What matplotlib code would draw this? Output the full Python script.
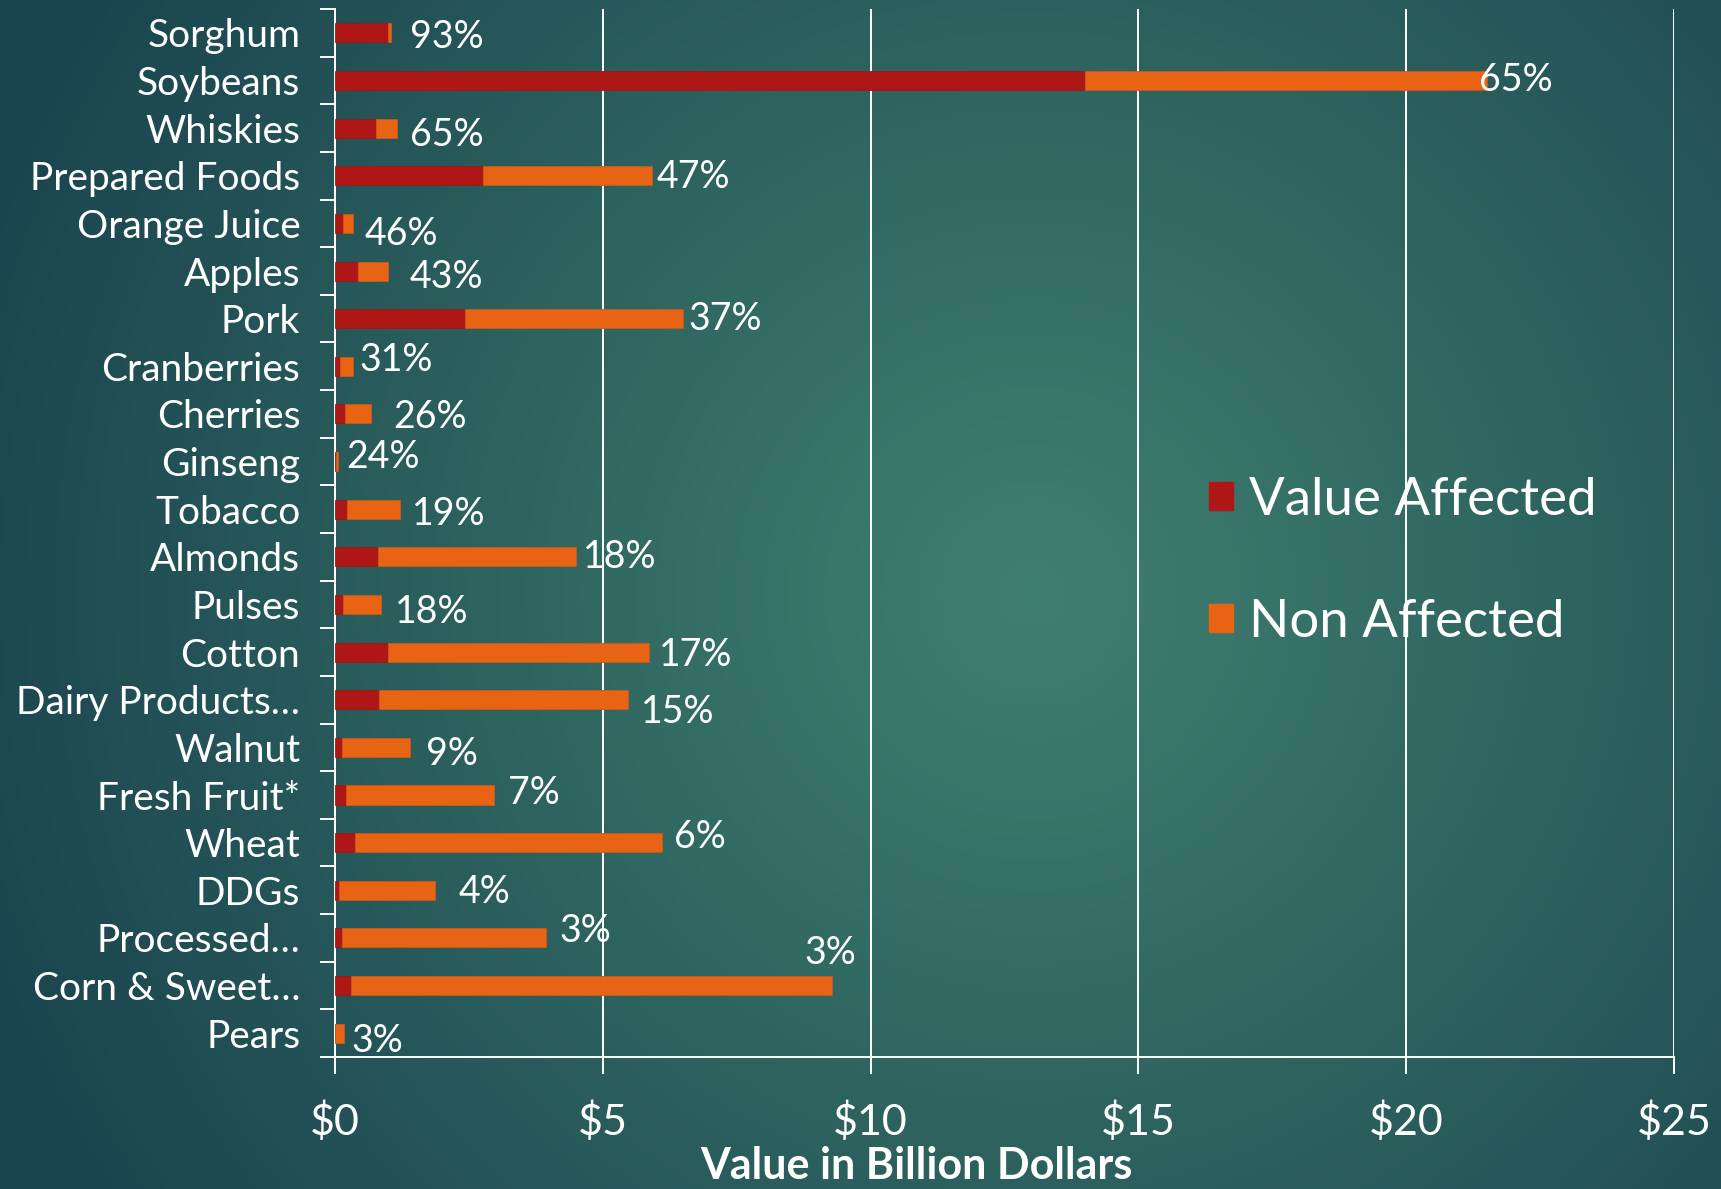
import numpy as np
import matplotlib
matplotlib.use("Agg")
import matplotlib.pyplot as plt
from matplotlib.patches import Patch

plt.rcParams['font.family'] = ['Lato', 'DejaVu Sans']

categories = ["Sorghum", "Soybeans", "Whiskies", "Prepared Foods", "Orange Juice",
              "Apples", "Pork", "Cranberries", "Cherries", "Ginseng", "Tobacco",
              "Almonds", "Pulses", "Cotton", "Dairy Products\u2026", "Walnut",
              "Fresh Fruit*", "Wheat", "DDGs", "Processed\u2026", "Corn & Sweet\u2026",
              "Pears"]
# billions of dollars
affected = [0.98, 14.0, 0.76, 2.77, 0.15, 0.42, 2.42, 0.10, 0.18, 0.015, 0.23,
            0.81, 0.15, 0.99, 0.82, 0.12, 0.20, 0.37, 0.07, 0.12, 0.30, 0.005]
non_affected = [0.07, 7.5, 0.39, 3.15, 0.18, 0.56, 4.08, 0.23, 0.50, 0.045, 0.98,
                3.68, 0.71, 4.87, 4.65, 1.27, 2.77, 5.73, 1.79, 3.81, 8.98, 0.155]
pct_labels = ["93%", "65%", "65%", "47%", "46%", "43%", "37%", "31%", "26%", "24%",
              "19%", "18%", "18%", "17%", "15%", "9%", "7%", "6%", "4%", "3%", "3%", "3%"]

# hand placed label offsets (points), like the original slide
lab_dx = [17, -7, 12, 4, 11, 20, 5, 6, 20, 7, 11, 7, 13, 9, 12, 15, 13, 11, 22, 13, -25, 7]
lab_dy = [4, 0, 6, 1, 10, 5, 0, -6, 3, -4, 4, 0, 7, 3, 11, 6, -2, -5, 2, -6, -30, 7]

RED = "#AF1616"
ORANGE = "#E86414"

fig = plt.figure(figsize=(17.21, 11.89), dpi=100)

# teal radial background
bg = fig.add_axes([0, 0, 1, 1], zorder=-10)
yy, xx = np.mgrid[0:1:300j, 0:1:430j]
d = np.sqrt(((xx - 0.6) * 1.45) ** 2 + ((yy - 0.5) * 1.0) ** 2)
t = np.clip(d / 0.95, 0, 1)
c_in = np.array([64, 128, 112]) / 255
c_out = np.array([26, 68, 78]) / 255
img = c_in[None, None, :] * (1 - t[..., None]) + c_out[None, None, :] * t[..., None]
bg.imshow(img, aspect='auto', extent=[0, 1, 0, 1], origin='upper')
bg.axis('off')

ax = fig.add_axes([0.1947, 0.1110, 0.9727 - 0.1947, 0.9924 - 0.1110])
ax.set_facecolor('none')

y = np.arange(len(categories))
ax.barh(y, affected, height=0.4, color=RED, edgecolor="#9a1a12", linewidth=0.6,
        label="Value Affected", zorder=3)
ax.barh(y, non_affected, left=affected, height=0.4, color=ORANGE, edgecolor="#c85a1c",
        linewidth=0.6, label="Non Affected", zorder=3)

for i in range(len(categories)):
    total = affected[i] + non_affected[i]
    ax.annotate(pct_labels[i], (total, y[i]), xytext=(lab_dx[i] * 0.79, -lab_dy[i] * 0.79),
                textcoords='offset points', ha='left', va='center', color='white',
                fontsize=27, zorder=5)

ax.set_xlim(0, 25)
ax.set_ylim(len(categories) - 0.5, -0.5)
ax.set_xticks([0, 5, 10, 15, 20, 25])
ax.set_xticklabels(["$%d" % v for v in [0, 5, 10, 15, 20, 25]])
ax.set_yticks(y)
ax.set_yticklabels(categories)
ax.set_yticks(np.arange(-0.5, len(categories), 1.0), minor=True)

ax.grid(axis='x', color='white', linewidth=1.4, zorder=1)
ax.tick_params(axis='y', which='major', length=0, pad=25, labelsize=28, labelcolor='white')
ax.tick_params(axis='y', which='minor', length=11, width=1.4, color='white', direction='out')
ax.tick_params(axis='x', which='major', length=12, width=1.4, color='white', pad=20,
               labelsize=31, labelcolor='white')

for s in ['top', 'right']:
    ax.spines[s].set_visible(False)
for s in ['left', 'bottom']:
    ax.spines[s].set_color('white')
    ax.spines[s].set_linewidth(1.4)

ax.set_xlabel("Value in Billion Dollars", color='white', fontsize=31, fontweight='bold',
              va='bottom')
ax.xaxis.set_label_coords(0.434, (3 / 1189 - 0.111) / 0.8814)

handles = [Patch(color=RED), Patch(color=ORANGE)]
leg = ax.legend(handles, ["Value Affected", "Non Affected"], loc='center left',
                bbox_to_anchor=(0.653, 0.473), frameon=False, fontsize=38,
                handlelength=0.45, handleheight=0.45, handletextpad=0.3,
                labelspacing=1.43, borderpad=0, borderaxespad=0)
for txt in leg.get_texts():
    txt.set_color('white')

fig.savefig("out.png", dpi=100)
